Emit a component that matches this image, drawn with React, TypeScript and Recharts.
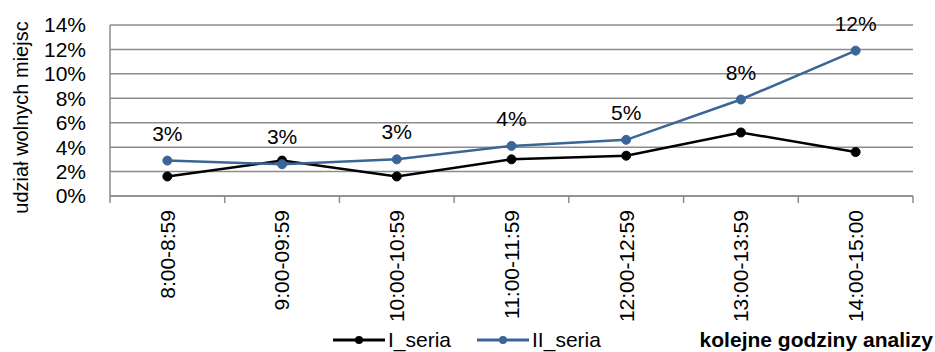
import React from 'react';
import { LineChart, Line, XAxis, YAxis, CartesianGrid, Legend, LabelList } from 'recharts';

// Hour slots on the horizontal axis
const hours = ['8:00-8:59', '9:00-09:59', '10:00-10:59', '11:00-11:59', '12:00-12:59', '13:00-13:59', '14:00-15:00'];
// Series names and share of free places (%) per series
const seriesNames = ['I_seria', 'II_seria'];
const seriesI = [1.6, 2.9, 1.6, 3.0, 3.3, 5.2, 3.6];
const seriesII = [2.9, 2.6, 3.0, 4.1, 4.6, 7.9, 11.9];
const yTicks = [0, 2, 4, 6, 8, 10, 12, 14];

const FONT = '"Liberation Sans", Arial, sans-serif';
const FS = 21;
const GRID = '#8c8c8c';
const BLACK = '#000000';
const BLUE = '#3a6597';
const TICK_LEN = 7;
const TICK_GAP = 7;

// Each slot sits in the middle of its unit interval; integer positions mark slot boundaries.
const data = hours.map((h, i) => ({ pos: i + 0.5, hour: h, s1: seriesI[i], s2: seriesII[i] }));
const xTicks = hours.flatMap((_, i) => [i, i + 0.5]).concat([hours.length]);

function HourTick(props: any) {
  const { x, y, payload } = props;
  const v = payload.value as number;
  if (Number.isInteger(v)) {
    return (
      <line x1={x} x2={x} y1={y - TICK_GAP - TICK_LEN} y2={y - TICK_GAP} stroke={GRID} strokeWidth={1.5} />
    );
  }
  const label = hours[Math.floor(v)];
  return (
    <text
      x={x}
      y={y}
      dy="0.35em"
      transform={`rotate(-90, ${x}, ${y})`}
      textAnchor="end"
      fontFamily={FONT}
      fontSize={FS}
      fill="#000"
    >
      {label}
    </text>
  );
}

function YTitle(props: any) {
  const { viewBox } = props;
  const cx = viewBox.x + 28;
  const cy = viewBox.y + viewBox.height / 2 + 7;
  return (
    <text
      x={cx}
      y={cy}
      transform={`rotate(-90, ${cx}, ${cy})`}
      textAnchor="middle"
      fontFamily={FONT}
      fontSize={20}
      fill="#000"
    >
      udział wolnych miejsc
    </text>
  );
}

function XTitle(props: any) {
  const { viewBox } = props;
  return (
    <text
      x={viewBox.x + viewBox.width + 20}
      y={viewBox.y + viewBox.height + 25}
      textAnchor="end"
      fontFamily={FONT}
      fontSize={FS}
      fontWeight="bold"
      fill="#000"
    >
      kolejne godziny analizy
    </text>
  );
}

function LegendBox(props: any) {
  const items = [...(props.payload || [])].sort(
    (a: any, b: any) => seriesNames.indexOf(a.value) - seriesNames.indexOf(b.value)
  );
  return (
    <div
      style={{
        display: 'flex',
        alignItems: 'center',
        height: 30,
        paddingLeft: 333,
        paddingTop: 6,
        boxSizing: 'border-box',
        fontFamily: FONT,
        fontSize: FS,
        color: '#000',
      }}
    >
      {items.map((p: any) => (
        <div key={p.value} style={{ display: 'flex', alignItems: 'center', marginRight: 26 }}>
          <svg width={52} height={12}>
            <line x1={0} x2={52} y1={6} y2={6} stroke={p.color} strokeWidth={3} />
            <circle cx={26} cy={6} r={4} fill={p.color} />
          </svg>
          <span style={{ marginLeft: 3 }}>{p.value}</span>
        </div>
      ))}
    </div>
  );
}

export default function App() {
  return (
    <div style={{ position: 'absolute', left: 0, top: 0, width: 935, height: 352, background: '#fff' }}>
      <LineChart width={935} height={352} data={data} margin={{ top: 25, right: 22, left: 0, bottom: 0 }}>
        <CartesianGrid vertical={false} stroke={GRID} strokeWidth={1.5} />
        <XAxis
          dataKey="pos"
          type="number"
          domain={[0, hours.length]}
          ticks={xTicks}
          interval={0}
          height={126}
          tickLine={false}
          tickSize={TICK_LEN}
          tickMargin={TICK_GAP}
          axisLine={{ stroke: GRID, strokeWidth: 1.5 }}
          tick={<HourTick />}
          label={<XTitle />}
        />
        <YAxis
          domain={[0, 14]}
          ticks={yTicks}
          interval={0}
          width={110}
          tickLine={false}
          tickMargin={18}
          axisLine={{ stroke: GRID, strokeWidth: 1.5 }}
          tickFormatter={(v: number) => `${v}%`}
          tick={{ fontFamily: FONT, fontSize: FS, fill: '#000' }}
          label={<YTitle />}
        />
        <Legend verticalAlign="bottom" height={30} content={<LegendBox />} />
        <Line
          name={seriesNames[0]}
          dataKey="s1"
          stroke={BLACK}
          strokeWidth={2.5}
          dot={{ r: 4.5, fill: BLACK, stroke: BLACK, strokeWidth: 1 }}
          isAnimationActive={false}
        />
        <Line
          name={seriesNames[1]}
          dataKey="s2"
          stroke={BLUE}
          strokeWidth={2.5}
          dot={{ r: 4.5, fill: BLUE, stroke: BLUE, strokeWidth: 1 }}
          isAnimationActive={false}
        >
          <LabelList
            dataKey="s2"
            position="top"
            offset={20}
            formatter={(v: any) => `${Math.round(Number(v))}%`}
            style={{ fontFamily: FONT, fontSize: FS, fill: '#000' }}
          />
        </Line>
      </LineChart>
    </div>
  );
}
